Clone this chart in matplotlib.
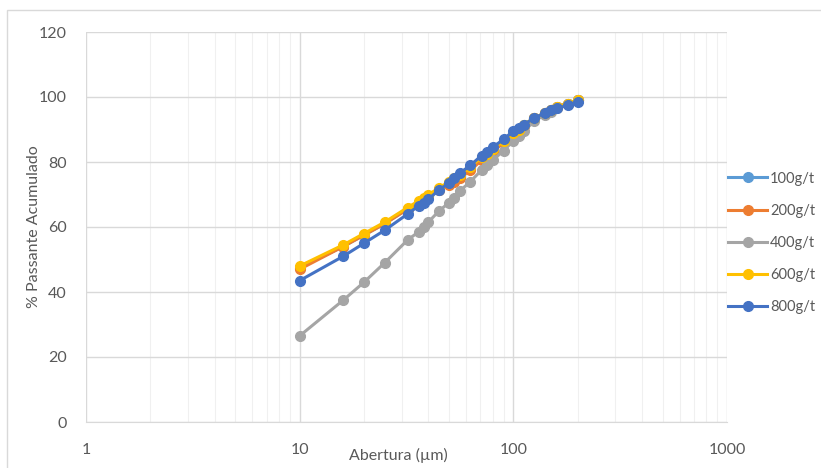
import numpy as np
import matplotlib.pyplot as plt
from matplotlib.patches import Rectangle
from matplotlib.ticker import LogLocator, FixedLocator, NullFormatter

plt.rcParams['font.family'] = ['Lato', 'DejaVu Sans']

# aberturas (um) e % passante acumulado por dosagem
abertura = [10, 16, 20, 25, 32, 36, 38, 40, 45, 50, 53, 56, 63, 71, 75, 80,
            90, 100, 106, 112, 125, 140, 150, 160, 180, 200]

p100 = [47.5, 54, 57.5, 61, 65.5, 67.5, 68.5, 69.5, 71.5, 73.5, 74.5, 75.5, 78,
        81, 82, 83.5, 86.5, 89, 90, 91.5, 93.5, 95, 96, 97, 98, 99]
p200 = [47, 54, 57.5, 61, 65.5, 67.5, 68.5, 69.5, 71.5, 73, 74, 75, 77.5,
        80.5, 81.5, 83, 86, 88.5, 90, 91, 93.5, 95, 96, 97, 98, 99]
p400 = [26.5, 37.5, 43, 49, 56, 58.5, 60, 61.5, 65, 67.5, 69, 71, 74,
        77.5, 79, 80.5, 83.5, 86.5, 88, 89.5, 92.5, 94.5, 95.5, 96.5, 98, 99]
p600 = [48, 54.5, 58, 61.5, 66, 68, 69, 70, 72, 74, 75, 76, 78.5,
        81.5, 82.5, 84, 86.5, 89, 90, 91.5, 93.5, 95, 96, 97, 98, 99]
p800 = [43.5, 51, 55, 59, 64, 66.5, 67.5, 68.5, 71.5, 73.5, 75, 76.5, 79,
        82, 83, 84.5, 87, 89.5, 90.5, 91.5, 93.5, 95, 96, 96.5, 97.5, 98.5]

series = [("100g/t", p100, "#5B9BD5"),
          ("200g/t", p200, "#ED7D31"),
          ("400g/t", p400, "#A5A5A5"),
          ("600g/t", p600, "#FFC000"),
          ("800g/t", p800, "#4472C4")]

fig = plt.figure(figsize=(8.21, 4.68), dpi=100)
fig.patches.append(Rectangle((7 / 821, -0.1), 2, 1.1 - 10 / 468, transform=fig.transFigure,
                             fill=False, edgecolor="#D9D9D9", lw=1))
ax = fig.add_axes([86 / 821, 46 / 468, 641 / 821, 390 / 468])

for name, vals, c in series:
    ax.plot(abertura, vals, color=c, lw=2.2, marker='o', ms=7, label=name)

ax.set_xscale('log')
ax.set_xlim(1, 1000)
ax.set_ylim(0, 120)
ax.set_yticks(range(0, 121, 20))
ax.xaxis.set_major_locator(FixedLocator([1, 10, 100, 1000]))
ax.set_xticklabels(['1', '10', '100', '1000'])
ax.xaxis.set_minor_locator(LogLocator(base=10, subs=np.arange(2, 10)))
ax.xaxis.set_minor_formatter(NullFormatter())

ax.grid(True, which='major', color='#D9D9D9', lw=1)
ax.grid(True, which='minor', axis='x', color='#F0F0F0', lw=0.8)
ax.set_axisbelow(True)
for s in ['top', 'right', 'left']:
    ax.spines[s].set_visible(False)
ax.spines['bottom'].set_color('#D9D9D9')
ax.tick_params(which='both', length=0, labelsize=11.5, colors='#595959')
ax.tick_params(axis='x', pad=15)
ax.tick_params(axis='y', pad=14)

ax.set_ylabel('% Passante Acumulado', fontsize=11.5, color='#595959')
ax.yaxis.set_label_coords(-(86 - 41) / 641, 0.5)
fig.text(398 / 821, 1 - 455 / 468, 'Abertura (µm)', fontsize=11.5, color='#595959',
         ha='center', va='center')

fig.legend(loc='center left', bbox_to_anchor=(722 / 821, 1 - 243 / 468), frameon=False,
           fontsize=10.5, labelcolor='#595959', handlelength=2.7, handletextpad=0.2,
           labelspacing=1.25, borderaxespad=0)

fig.savefig('out.png', dpi=100)
